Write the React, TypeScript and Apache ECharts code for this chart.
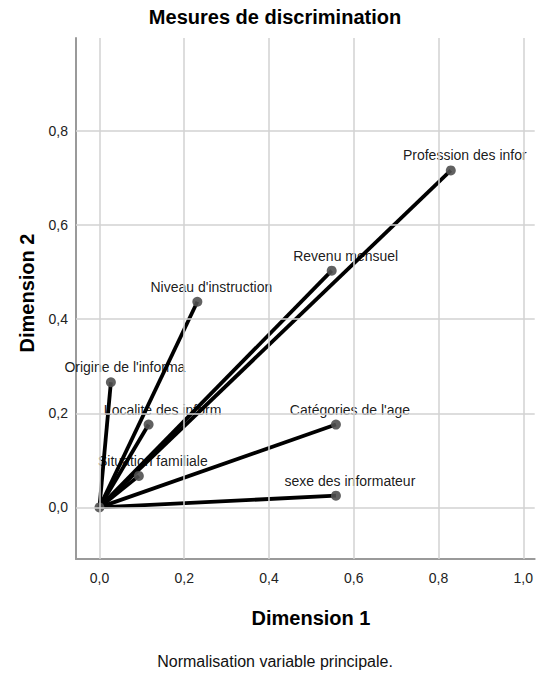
import React, { useEffect, useRef } from "react";
import * as echarts from "echarts";

const variableNames = [
  "Profession des infor",
  "Revenu mensuel",
  "Niveau d'instruction",
  "Origine de l'informa",
  "Localite des inform",
  "Situation familiale",
  "Catégories de l'age",
  "sexe des informateur",
];
const dimension1 = [0.829, 0.548, 0.231, 0.027, 0.116, 0.093, 0.558, 0.558];
const dimension2 = [0.716, 0.503, 0.437, 0.266, 0.176, 0.067, 0.176, 0.025];
const xTicks = [0, 0.2, 0.4, 0.6, 0.8, 1.0];
const yTicks = [0, 0.2, 0.4, 0.6, 0.8];
const xRange = [-0.0553, 1.027];
const yRange = [-0.1096, 0.9973];

const FONT = "'Liberation Sans', Arial, sans-serif";
const fmt = (v: number) => v.toFixed(1).replace(".", ",");

export default function App() {
  const ref = useRef<HTMLDivElement>(null);
  useEffect(() => {
    if (!ref.current) return;
    const chart = echarts.init(ref.current, null, { renderer: "svg" });
    const lineSeries = variableNames.map((n, i) => ({
      type: "line",
      name: n,
      data: [
        [0, 0],
        [dimension1[i], dimension2[i]],
      ],
      showSymbol: false,
      symbol: "none",
      lineStyle: { color: "#000", width: 3.8 },
      z: 2,
      silent: true,
    }));
    const gridSeries = {
      type: "line",
      data: [],
      z: 1,
      silent: true,
      markLine: {
        silent: true,
        symbol: ["none", "none"],
        label: { show: false },
        lineStyle: { type: "solid", color: "#d2d2d2", width: 1.5 },
        data: [
          ...xTicks.map((v) => ({ xAxis: v })),
          ...yTicks.map((v) => ({ yAxis: v })),
        ],
      },
    };
    const points = [
      { value: [0, 0], label: { show: false } },
      ...variableNames.map((n, i) => ({ name: n, value: [dimension1[i], dimension2[i]] })),
    ];
    chart.setOption({
      animation: false,
      grid: { left: 76, right: 0, top: 38, bottom: 116, containLabel: false },
      xAxis: {
        type: "value",
        min: xRange[0],
        max: xRange[1],
        axisLine: { show: true, onZero: false, lineStyle: { color: "#9a9a9a", width: 2 } },
        axisTick: { show: false },
        splitLine: { show: false },
        axisLabel: {
          customValues: xTicks,
          formatter: fmt,
          color: "#222",
          fontSize: 14,
          fontFamily: FONT,
          margin: 12,
        },
      },
      yAxis: {
        type: "value",
        min: yRange[0],
        max: yRange[1],
        axisLine: { show: true, onZero: false, lineStyle: { color: "#9a9a9a", width: 2 } },
        axisTick: { show: false },
        splitLine: { show: false },
        axisLabel: {
          customValues: yTicks,
          formatter: fmt,
          color: "#222",
          fontSize: 14,
          fontFamily: FONT,
          margin: 8,
        },
      },
      graphic: [
        {
          type: "text",
          x: 275,
          y: 17,
          style: {
            text: "Mesures de discrimination",
            fontSize: 20,
            fontWeight: "bold",
            fontFamily: FONT,
            fill: "#000",
            align: "center",
            verticalAlign: "middle",
          },
        },
        {
          type: "text",
          x: 311,
          y: 618,
          style: {
            text: "Dimension 1",
            fontSize: 20,
            fontWeight: "bold",
            fontFamily: FONT,
            fill: "#000",
            align: "center",
            verticalAlign: "middle",
          },
        },
        {
          type: "text",
          x: 27,
          y: 293,
          rotation: Math.PI / 2,
          style: {
            text: "Dimension 2",
            fontSize: 20,
            fontWeight: "bold",
            fontFamily: FONT,
            fill: "#000",
            align: "center",
            verticalAlign: "middle",
          },
        },
        {
          type: "text",
          x: 275,
          y: 661,
          style: {
            text: "Normalisation variable principale.",
            fontSize: 16,
            fontFamily: FONT,
            fill: "#111",
            align: "center",
            verticalAlign: "middle",
          },
        },
      ],
      series: [
        gridSeries,
        ...lineSeries,
        {
          type: "scatter",
          data: points,
          symbolSize: 10,
          itemStyle: { color: "#505050", opacity: 0.9 },
          z: 3,
          silent: true,
          label: {
            show: true,
            position: "top",
            distance: 3,
            offset: [14, 0],
            formatter: (p: any) => p.name || "",
            color: "#000",
            fontSize: 14,
            fontFamily: FONT,
          },
        },
      ],
    });
    return () => chart.dispose();
  }, []);
  return (
    <div
      ref={ref}
      style={{ position: "fixed", left: 0, top: 0, width: 536, height: 675, background: "#fff" }}
    />
  );
}
